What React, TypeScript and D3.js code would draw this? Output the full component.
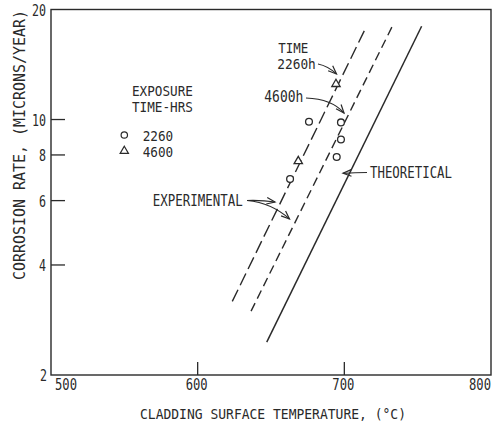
import React from "react";
import * as d3 from "d3";

const W = 502;
const H = 424;

// Axis ticks
const xTicks = [500, 600, 700, 800];
const yTicks = [2, 4, 6, 8, 10, 20];
const yInnerTicks = [4, 6, 8, 10];
const xInnerTicks = [600, 700];

// Lines: [temperature, corrosion rate]
const exp2260: [number, number][] = [
  [623.6, 3.18],
  [714.1, 17.65],
];
const exp4600: [number, number][] = [
  [636.4, 2.99],
  [733.0, 18.1],
];
const theoretical: [number, number][] = [
  [647.1, 2.46],
  [752.7, 18.0],
];

// Data points
const circles2260: [number, number][] = [
  [675.9, 9.86],
  [697.7, 9.82],
  [697.7, 8.82],
  [694.8, 7.9],
  [663.0, 6.87],
];
const triangles4600: [number, number][] = [
  [694.3, 12.5],
  [668.6, 7.69],
];

const legendItems = ["2260", "4600"];

const FONT = "'DejaVu Sans Mono', monospace";
const INK = "#2a2a2a";

function T({
  x,
  y,
  len,
  size = 15,
  anchor = "start",
  children,
  transform,
}: any) {
  return (
    <text
      x={x}
      y={y}
      fontSize={size}
      fontFamily={FONT}
      fill={INK}
      textAnchor={anchor}
      textLength={len}
      lengthAdjust="spacingAndGlyphs"
      transform={transform}
    >
      {children}
    </text>
  );
}

export default function App() {
  const x = d3.scaleLinear().domain([500, 800]).range([51, 491]);
  const y = d3.scaleLog().domain([2, 20]).range([375, 9.5]);
  const line = d3
    .line<[number, number]>()
    .x((d) => x(d[0]))
    .y((d) => y(d[1]));

  const tri = d3.symbol().type(d3.symbolTriangle).size(30)();

  const arrowHead = (tx: number, ty: number, fx: number, fy: number) => {
    const a = Math.atan2(ty - fy, tx - fx);
    const L = 9;
    const s = 0.38;
    const p1 = [tx - L * Math.cos(a - s), ty - L * Math.sin(a - s)];
    const p2 = [tx - L * Math.cos(a + s), ty - L * Math.sin(a + s)];
    return `M${p1[0]},${p1[1]}L${tx},${ty}L${p2[0]},${p2[1]}`;
  };

  const arrows = [
    // TIME 2260h
    { from: [318, 64], c: [328, 66], to: [336.5, 74] },
    // 4600h
    { from: [306, 98], c: [332, 99], to: [344, 113] },
    // THEORETICAL
    { from: [367, 172.5], c: [355, 172.8], to: [343, 173.3] },
    // EXPERIMENTAL 1
    { from: [247, 200.5], c: [262, 200], to: [275, 202] },
    // EXPERIMENTAL 2
    { from: [247, 200.5], c: [272, 203], to: [289.5, 219] },
  ];

  return (
    <svg width={W} height={H} style={{ position: "absolute", left: 0, top: 0, background: "#fff" }}>
      <rect x={0} y={0} width={W} height={H} fill="#fff" />
      {/* Frame */}
      <rect
        x={x(500)}
        y={y(20)}
        width={x(800) - x(500)}
        height={y(2) - y(20)}
        fill="none"
        stroke={INK}
        strokeWidth={1.4}
      />
      {/* inner ticks */}
      {yInnerTicks.map((t) => (
        <line key={"yt" + t} x1={x(500)} x2={x(500) + 14} y1={y(t)} y2={y(t)} stroke={INK} strokeWidth={1.3} />
      ))}
      {xInnerTicks.map((t) => (
        <line key={"xt" + t} x1={x(t)} x2={x(t)} y1={y(2)} y2={y(2) - 13} stroke={INK} strokeWidth={1.3} />
      ))}
      {/* y tick labels */}
      {yTicks.map((t) => (
        <T key={"yl" + t} x={t === 2 ? 47 : 46} y={y(t) + 6} anchor="end" len={String(t).length * 7}>
          {String(t)}
        </T>
      ))}
      {/* x tick labels */}
      {xTicks.map((t, i) => {
        const px = i === 0 ? x(t) + 4 : i === xTicks.length - 1 ? x(t) : x(t) - 1;
        const anchor = i === 0 ? "start" : i === xTicks.length - 1 ? "end" : "middle";
        return (
          <T key={"xl" + t} x={px} y={390} anchor={anchor} len={22}>
            {String(t)}
          </T>
        );
      })}
      {/* axis titles */}
      <T x={140} y={419} size={14} len={266}>
        CLADDING SURFACE TEMPERATURE, (°C)
      </T>
      <T x={0} y={0} size={15} anchor="middle" len={270} transform="translate(25,145) rotate(-90)">
        CORROSION RATE, (MICRONS/YEAR)
      </T>

      {/* lines */}
      <path d={line(exp2260) || ""} fill="none" stroke={INK} strokeWidth={1.4} strokeDasharray="13,5" />
      <path d={line(exp4600) || ""} fill="none" stroke={INK} strokeWidth={1.4} strokeDasharray="9,5" />
      <path d={line(theoretical) || ""} fill="none" stroke={INK} strokeWidth={1.5} />

      {/* points */}
      {circles2260.map((d, i) => (
        <circle key={"c" + i} cx={x(d[0])} cy={y(d[1])} r={3.4} fill="#fff" stroke={INK} strokeWidth={1.3} />
      ))}
      {triangles4600.map((d, i) => (
        <path key={"t" + i} d={tri || ""} transform={`translate(${x(d[0])},${y(d[1])})`} fill="#fff" stroke={INK} strokeWidth={1.3} />
      ))}

      {/* legend */}
      <T x={132} y={96} size={14} len={61}>EXPOSURE</T>
      <T x={132} y={112} size={14} len={61}>TIME-HRS</T>
      <circle cx={124.3} cy={135} r={3.2} fill="#fff" stroke={INK} strokeWidth={1.2} />
      <path d={tri || ""} transform="translate(124.3,151)" fill="#fff" stroke={INK} strokeWidth={1.2} />
      {legendItems.map((s, i) => (
        <T key={s} x={142.7} y={141 + i * 15.5} size={13.3} len={30.5}>
          {s}
        </T>
      ))}

      {/* annotations */}
      <T x={278.3} y={52.5} size={13.5} len={30}>TIME</T>
      <T x={277.3} y={68.5} size={13.5} len={38.5}>2260h</T>
      <T x={264.3} y={102} len={39}>4600h</T>
      <T x={370} y={178} len={82}>THEORETICAL</T>
      <T x={152.7} y={206} len={90}>EXPERIMENTAL</T>

      {arrows.map((a, i) => (
        <g key={"a" + i} fill="none" stroke={INK} strokeWidth={1.2}>
          <path d={`M${a.from[0]},${a.from[1]}Q${a.c[0]},${a.c[1]} ${a.to[0]},${a.to[1]}`} />
          <path d={arrowHead(a.to[0], a.to[1], a.c[0], a.c[1])} />
        </g>
      ))}
    </svg>
  );
}
